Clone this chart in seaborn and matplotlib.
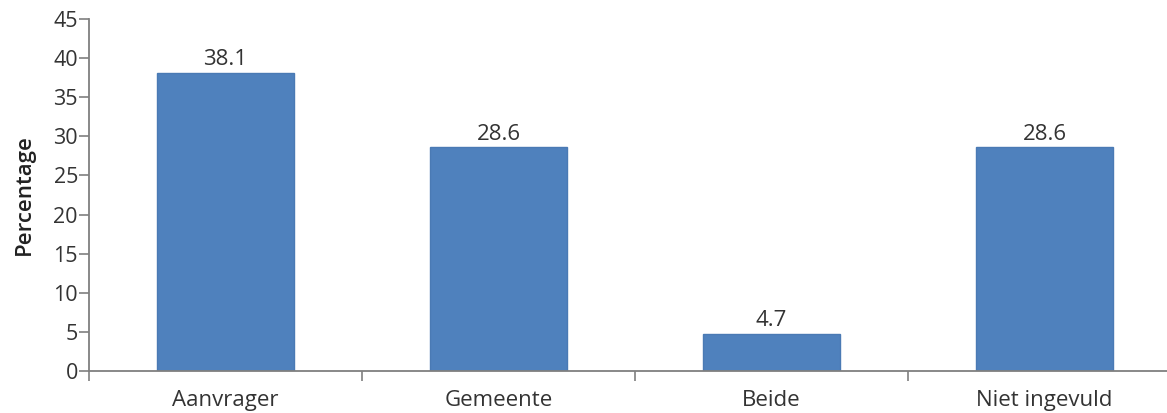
import matplotlib
matplotlib.use("Agg")
import matplotlib.pyplot as plt
import seaborn as sns
import pandas as pd
from matplotlib.ticker import FixedLocator, NullFormatter, FixedFormatter

categories = ["Aanvrager", "Gemeente", "Beide", "Niet ingevuld"]
values = [38.1, 28.6, 4.7, 28.6]
value_labels = ["38.1", "28.6", "4.7", "28.6"]
yticks = [0, 5, 10, 15, 20, 25, 30, 35, 40, 45]

sns.set_style("white")
plt.rcParams["font.family"] = ["Open Sans", "DejaVu Sans"]

df = pd.DataFrame({"cat": categories, "val": values})

fig = plt.figure(figsize=(11.67, 4.13), dpi=100)
ax = fig.add_axes([89 / 1167, 1 - 371 / 413, 1092 / 1167, 352 / 413])

sns.barplot(data=df, x="cat", y="val", color="#4F81BD", width=0.5,
            edgecolor="#4A7AB4", linewidth=1, saturation=1, ax=ax)

ax.set_xlim(-0.5, 3.5)
ax.set_ylim(0, 45)
ax.set_yticks(yticks)
ax.set_yticklabels([str(t) for t in yticks], fontsize=15.5, color="#333333")

ax.xaxis.set_major_locator(FixedLocator([-0.5, 0.5, 1.5, 2.5, 3.5]))
ax.xaxis.set_major_formatter(NullFormatter())
ax.xaxis.set_minor_locator(FixedLocator([0, 1, 2, 3]))
ax.xaxis.set_minor_formatter(FixedFormatter(categories))
ax.tick_params(axis="x", which="major", direction="out", length=7, width=1.2,
               color="#7f7f7f", bottom=True)
ax.tick_params(axis="x", which="minor", length=0, pad=14, labelsize=16,
               labelcolor="#333333", bottom=True)
ax.tick_params(axis="y", direction="out", length=7, width=1.2, color="#7f7f7f",
               left=True, pad=1)

for s in ["top", "right"]:
    ax.spines[s].set_visible(False)
for s in ["left", "bottom"]:
    ax.spines[s].set_color("#7f7f7f")
    ax.spines[s].set_linewidth(1.3)

ax.set_xlabel("")
ax.set_ylabel("Percentage", fontsize=16, fontweight="semibold", color="#222222",
              labelpad=13)

ax.bar_label(ax.containers[0], labels=value_labels, padding=2, fontsize=16,
             color="#333333")

fig.savefig("out.png", dpi=100)
